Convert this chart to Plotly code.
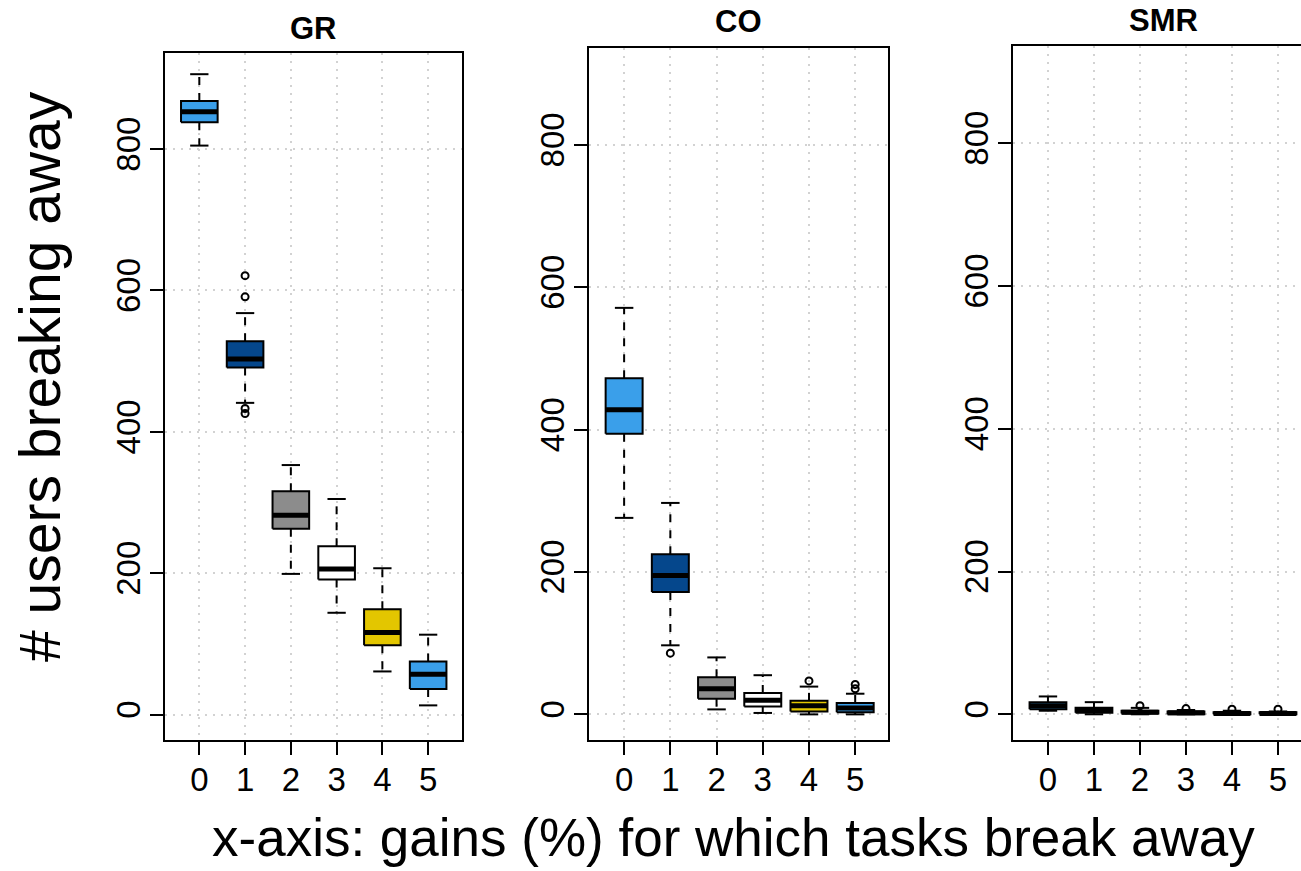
import plotly.graph_objects as go

# ---------------- data ----------------
gains = [0, 1, 2, 3, 4, 5]
tick_labels = ["0", "1", "2", "3", "4", "5"]
panel_titles = ["GR", "CO", "SMR"]
box_colors = ["#3A9FEA", "#05478C", "#8C8C8C", "#FFFFFF", "#E3C600", "#3A9FEA"]

gr_low = [805, 441, 199, 144, 61, 13]
gr_q1 = [838, 491, 263, 191, 98, 36]
gr_med = [853, 503, 282, 206, 116, 57]
gr_q3 = [868, 528, 316, 238, 149, 75]
gr_high = [906, 568, 353, 305, 207, 113]
gr_out_x = [1, 1, 1, 1]
gr_out_y = [621, 591, 433, 426]

co_low = [276, 97, 7, 2, 0, 0]
co_q1 = [394, 172, 22, 11, 4, 3]
co_med = [428, 195, 36, 20, 12, 9]
co_q3 = [472, 225, 52, 30, 19, 16]
co_high = [571, 297, 80, 55, 39, 29]
co_out_x = [1, 4, 5, 5]
co_out_y = [86, 47, 42, 36]

smr_low = [5, 0, 0, 0, 0, 0]
smr_q1 = [7, 2, 1, 0, 0, 0]
smr_med = [12, 6, 3, 2, 1, 1]
smr_q3 = [17, 9, 5, 4, 3, 3]
smr_high = [25, 17, 9, 6, 5, 4]
smr_out_x = [2, 3, 4, 5]
smr_out_y = [12, 8, 7, 7]

y_ticks = [0, 200, 400, 600, 800]

# ---------------- layout geometry ----------------
W, H = 1301, 871
panels = [
    dict(name=panel_titles[0], low=gr_low, q1=gr_q1, med=gr_med, q3=gr_q3, high=gr_high,
         ox=gr_out_x, oy=gr_out_y, px=(165, 462), top=53, xr=[-0.75, 5.74], title_y=28),
    dict(name=panel_titles[1], low=co_low, q1=co_q1, med=co_med, q3=co_q3, high=co_high,
         ox=co_out_x, oy=co_out_y, px=(589, 888), top=48, xr=[-0.76, 5.71], title_y=22),
    dict(name=panel_titles[2], low=smr_low, q1=smr_q1, med=smr_med, q3=smr_q3, high=smr_high,
         ox=smr_out_x, oy=smr_out_y, px=(1013, 1301), top=46, xr=[-0.76, 5.5], title_y=20),
]
bottom_px = 740
half = 0.4
staple = 0.2
FONT = "Liberation Sans, Arial, Helvetica, sans-serif"
GRID = "#D2D2D2"
TICK_SIZE = 33

fig = go.Figure()
annotations = []

for k, p in enumerate(panels):
    sfx = "" if k == 0 else str(k + 1)
    xa, ya = "x" + sfx, "y" + sfx

    # whiskers (dashed)
    wx, wy = [], []
    for i, g in enumerate(gains):
        wx += [g, g, None, g, g, None]
        wy += [p["q3"][i], p["high"][i], None, p["q1"][i], p["low"][i], None]
    fig.add_trace(go.Scatter(x=wx, y=wy, mode="lines", xaxis=xa, yaxis=ya,
                             line=dict(color="black", width=2, dash="8px,8px"),
                             hoverinfo="skip", showlegend=False))
    # staples
    sx, sy = [], []
    for i, g in enumerate(gains):
        sx += [g - staple, g + staple, None, g - staple, g + staple, None]
        sy += [p["high"][i], p["high"][i], None, p["low"][i], p["low"][i], None]
    fig.add_trace(go.Scatter(x=sx, y=sy, mode="lines", xaxis=xa, yaxis=ya,
                             line=dict(color="black", width=2),
                             hoverinfo="skip", showlegend=False))
    # boxes
    for i, g in enumerate(gains):
        fig.add_trace(go.Scatter(
            x=[g - half, g + half, g + half, g - half, g - half],
            y=[p["q1"][i], p["q1"][i], p["q3"][i], p["q3"][i], p["q1"][i]],
            mode="lines", fill="toself", fillcolor=box_colors[i],
            line=dict(color="black", width=2), xaxis=xa, yaxis=ya,
            hoverinfo="skip", showlegend=False))
    # medians
    mx, my = [], []
    for i, g in enumerate(gains):
        mx += [g - half, g + half, None]
        my += [p["med"][i], p["med"][i], None]
    fig.add_trace(go.Scatter(x=mx, y=my, mode="lines", xaxis=xa, yaxis=ya,
                             line=dict(color="black", width=5),
                             hoverinfo="skip", showlegend=False))
    # outliers
    fig.add_trace(go.Scatter(x=p["ox"], y=p["oy"], mode="markers", xaxis=xa, yaxis=ya,
                             marker=dict(symbol="circle-open", size=7, color="black",
                                         line=dict(width=2, color="black")),
                             hoverinfo="skip", showlegend=False))

    xdom = [p["px"][0] / W, p["px"][1] / W]
    ydom = [(H - bottom_px) / H, (H - p["top"]) / H]
    is_last = (k == 2)
    fig.layout["xaxis" + sfx] = dict(
        domain=xdom, range=p["xr"], anchor=ya,
        tickmode="array", tickvals=gains, ticktext=tick_labels,
        ticks="outside", ticklen=13, tickwidth=2, tickcolor="black",
        ticklabelstandoff=-4,
        showline=True, linecolor="black", linewidth=2, mirror=True,
        showgrid=True, gridcolor=GRID, griddash="2px,6px", gridwidth=1.5,
        zeroline=False, tickfont=dict(family=FONT, size=TICK_SIZE, color="black"),
        fixedrange=True)
    fig.layout["yaxis" + sfx] = dict(
        domain=ydom, range=[-36, 936], anchor=xa,
        tickmode="array", tickvals=y_ticks, ticktext=[str(v) for v in y_ticks],
        ticks="outside", ticklen=13, tickwidth=2, tickcolor="black", tickangle=-90,
        ticklabelstandoff=-3,
        showline=True, linecolor="black", linewidth=2, mirror=(not is_last),
        showgrid=True, gridcolor=GRID, griddash="2px,6px", gridwidth=1.5,
        zeroline=False, tickfont=dict(family=FONT, size=TICK_SIZE, color="black"),
        fixedrange=True)
    annotations.append(dict(
        text="<b>" + p["name"] + "</b>",
        x=(p["px"][0] + (p["px"][1] if not is_last else 1313)) / 2 / W,
        y=1 - p["title_y"] / H, xref="paper", yref="paper", showarrow=False,
        xanchor="center", yanchor="middle",
        font=dict(family=FONT, size=31, color="black")))

annotations.append(dict(
    text="x-axis: gains (%) for which tasks break away", x=733 / W, y=0.002,
    xref="paper", yref="paper", showarrow=False, xanchor="center", yanchor="bottom",
    font=dict(family=FONT, size=53, color="black")))
annotations.append(dict(
    text="# users breaking away", x=40 / W, y=1 - 377 / H, textangle=-90,
    xref="paper", yref="paper", showarrow=False, xanchor="center", yanchor="middle",
    font=dict(family=FONT, size=57, color="black")))

fig.update_layout(
    width=W, height=H, margin=dict(l=0, r=0, t=0, b=0),
    paper_bgcolor="white", plot_bgcolor="white",
    annotations=annotations, showlegend=False)

fig.write_html("out.html")
